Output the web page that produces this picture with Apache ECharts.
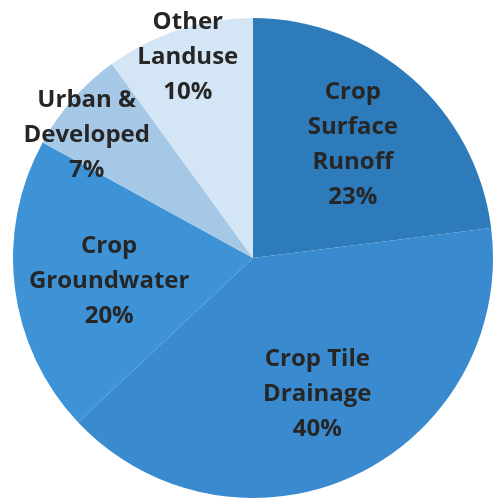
<!DOCTYPE html>
<html>
<head>
<meta charset="utf-8">
<script src="https://cdn.jsdelivr.net/npm/echarts@6/dist/echarts.min.js"></script>
<style>
html,body{margin:0;padding:0;background:#fff;}
#c{width:494px;height:504px;}
</style>
</head>
<body>
<div id="c"></div>
<script>
var categories = ["Crop\nSurface\nRunoff", "Crop Tile\nDrainage", "Crop\nGroundwater", "Urban &\nDeveloped", "Other\nLanduse"];
var values = [23, 40, 20, 7, 10];
var colors = ["#2D7BBB", "#3A8ACF", "#3E92D6", "#A6C8E7", "#D4E5F5"];
var innerLabelSet = [true, true, true, false, false];

var chart = echarts.init(document.getElementById('c'));
var center = [253, 258];
var R = 240;
// small per-slice label nudges (style only)
var labelNudge = [[0, 0], [0, 0], [6, 4], [-8, 17], [0, 0]];

function makeData(showFn, colorFn) {
  return categories.map(function (n, i) {
    return {
      name: n,
      value: values[i],
      itemStyle: { color: colorFn(i) },
      label: { show: showFn(i), offset: labelNudge[i] }
    };
  });
}

var labelStyle = {
  position: 'inside',
  formatter: function (p) { return p.name + '\n' + p.value + '%'; },
  fontFamily: 'Open Sans',
  fontWeight: 'bold',
  fontSize: 24,
  lineHeight: 35,
  color: '#262626',
  overflow: 'none'
};

function labelSeries(r0, showFn) {
  return {
    type: 'pie',
    center: center,
    radius: [r0, R],
    startAngle: 90,
    clockwise: true,
    silent: true,
    avoidLabelOverlap: false,
    minShowLabelAngle: 0,
    labelLayout: { hideOverlap: false },
    label: labelStyle,
    labelLine: { show: false },
    data: makeData(showFn, function () { return 'rgba(0,0,0,0)'; })
  };
}

chart.setOption({
  animation: false,
  series: [
    {
      type: 'pie',
      center: center,
      radius: [0, R],
      startAngle: 90,
      clockwise: true,
      silent: true,
      label: { show: false },
      labelLine: { show: false },
      data: makeData(function () { return false; }, function (i) { return colors[i]; })
    },
    labelSeries(56, function (i) { return innerLabelSet[i]; }),
    labelSeries(176, function (i) { return !innerLabelSet[i]; })
  ]
});
</script>
</body>
</html>
